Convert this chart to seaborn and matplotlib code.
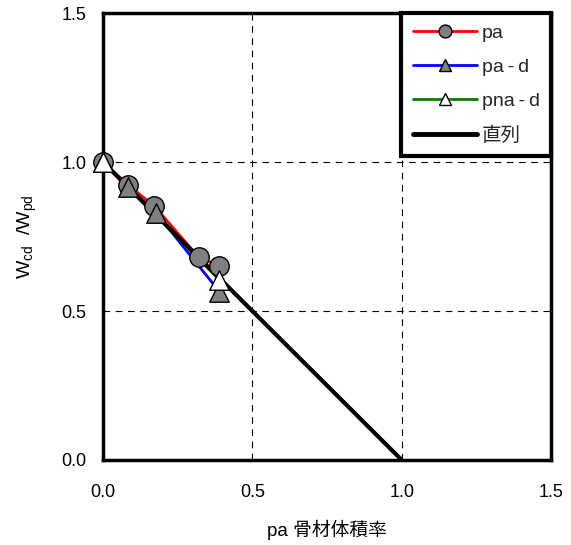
import matplotlib
matplotlib.use("Agg")
import matplotlib.pyplot as plt
from matplotlib.lines import Line2D
import seaborn as sns

sns.set_theme(style="white")
plt.rcParams['font.family'] = ['Liberation Sans', 'Noto Sans CJK JP', 'DejaVu Sans']
plt.rcParams['mathtext.fontset'] = 'custom'
plt.rcParams['mathtext.rm'] = 'Liberation Sans'
plt.rcParams['mathtext.it'] = 'Liberation Sans'

# aggregate volume fraction vs. normalized value
pa_x = [0.0, 0.084, 0.172, 0.32, 0.39]
pa_y = [1.0, 0.923, 0.852, 0.681, 0.651]

pad_x = [0.0, 0.084, 0.178, 0.39]
pad_y = [1.0, 0.916, 0.829, 0.565]

pnad_x = [0.0, 0.39]
pnad_y = [1.0, 0.604]

series_x = [0.0, 1.0]
series_y = [1.0, 0.0]

x_ticks = [0.0, 0.5, 1.0, 1.5]
y_ticks = [0.0, 0.5, 1.0, 1.5]

fig = plt.figure(figsize=(5.71, 5.45), dpi=100)
ax = fig.add_axes([0.1804, 0.156, 0.7846, 0.820])

for v in [0.5, 1.0]:
    ax.axvline(v, color='black', lw=0.8, ls=(0, (6, 5)), zorder=0)
    ax.axhline(v, color='black', lw=0.8, ls=(0, (6, 5)), zorder=0)

MS = 14
styles = [
    ('pa', pa_x, pa_y, 'red', 'o', '#808080'),
    ('pa\u2009-\u2009d', pad_x, pad_y, 'blue', '^', '#808080'),
    ('pna\u2009-\u2009d', pnad_x, pnad_y, 'green', '^', 'white'),
]

# connecting lines sit beneath the series line
for name, xs, ys, c, m, fc in styles:
    sns.lineplot(x=xs, y=ys, ax=ax, color=c, lw=2, zorder=2, sort=False)

sns.lineplot(x=series_x, y=series_y, ax=ax, color='black', lw=3, zorder=3)

# markers drawn on top of all lines
for i, (name, xs, ys, c, m, fc) in enumerate(styles):
    sns.scatterplot(x=xs, y=ys, ax=ax, marker=m, s=MS ** 2, color=fc,
                    edgecolor='black', linewidth=1, zorder=4 + i, clip_on=False)

ax.set_xlim(0, 1.5)
ax.set_ylim(0, 1.5)
ax.set_xticks(x_ticks)
ax.set_yticks(y_ticks)
ax.set_xticklabels([f"{v:.1f}" for v in x_ticks])
ax.set_yticklabels([f"{v:.1f}" for v in y_ticks])
ax.tick_params(axis='x', labelsize=13, length=0, pad=17, colors='black')
ax.tick_params(axis='y', labelsize=13, length=0, pad=12, colors='black')
for s in ax.spines.values():
    s.set_color('black')
    s.set_linewidth(2.5)

ax.set_xlabel('pa 骨材体積率', fontsize=13.5, labelpad=14, color='black')
ax.set_ylabel(r'W$_{\mathrm{cd}}$  /W$_{\mathrm{pd}}$', fontsize=14, labelpad=16, color='black')

handles = [
    Line2D([], [], color=c, lw=2, marker=m, markersize=MS, markerfacecolor=fc,
           markeredgecolor='black', markeredgewidth=1)
    for name, xs, ys, c, m, fc in styles
] + [Line2D([], [], color='black', lw=3.5)]
labels = [s[0] for s in styles] + ['直列']

leg = ax.legend(handles, labels, loc='upper right', bbox_to_anchor=(1.0, 1.0),
                fontsize=14, frameon=True, fancybox=False, edgecolor='black',
                framealpha=1, handlelength=3.3, handletextpad=0.25,
                labelspacing=0.85, borderpad=0.58, borderaxespad=0,
                markerscale=0.66)
leg.get_frame().set_linewidth(3)
leg.set_zorder(10)

fig.savefig('out.png', dpi=100)
